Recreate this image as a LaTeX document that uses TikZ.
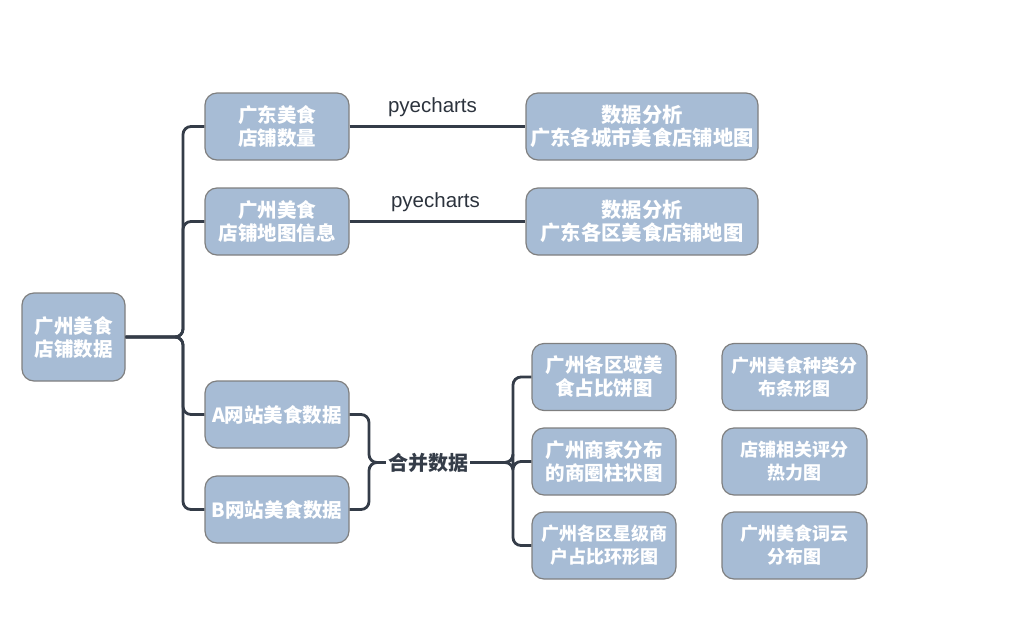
\documentclass[tikz,border=0pt]{standalone}
\usepackage{fontspec}
\setmainfont{Noto Sans CJK SC}
\newfontfamily\latinsans{Liberation Sans}
\definecolor{boxfill}{HTML}{A7BCD5}
\definecolor{boxborder}{HTML}{7F7F7F}
\definecolor{linkc}{HTML}{343C48}
\tikzset{
  box/.style={draw=boxborder, fill=boxfill, rounded corners=12pt, line width=1.2pt,
    text=white, align=center, inner sep=0pt,
    font=\bfseries\fontsize{19.5}{23}\selectfont},
  link/.style={draw=linkc, line width=2.8pt, rounded corners=8pt},
  lbl/.style={text=linkc!85!black, inner sep=1pt, font=\latinsans\fontsize{20.5}{24}\selectfont}
}
\begin{document}
\begin{tikzpicture}[x=1pt,y=-1pt]
\useasboundingbox (0,0) rectangle (1035,629);
% nodes
\node[box, minimum width=103pt, minimum height=88pt] (root) at (73.5,337) {广州美食\\店铺数据};
\node[box, minimum width=144pt, minimum height=67pt] (n1) at (277,126.5) {广东美食\\店铺数量};
\node[box, minimum width=144pt, minimum height=67pt] (n2) at (277,221.5) {广州美食\\店铺地图信息};
\node[box, minimum width=144pt, minimum height=67pt] (nA) at (277,414.5) {A网站美食数据};
\node[box, minimum width=144pt, minimum height=67pt] (nB) at (277,509.5) {B网站美食数据};
\node[box, minimum width=232pt, minimum height=67pt, font=\bfseries\fontsize{20.3}{23}\selectfont] (d1) at (642,126.5) {数据分析\\广东各城市美食店铺地图};
\node[box, minimum width=232pt, minimum height=67pt, font=\bfseries\fontsize{20.3}{23}\selectfont] (d2) at (642,221.5) {数据分析\\广东各区美食店铺地图};
\node[box, minimum width=144pt, minimum height=67pt] (c1) at (604,377) {广州各区域美\\食占比饼图};
\node[box, minimum width=144pt, minimum height=67pt] (c2) at (604,461.5) {广州商家分布\\的商圈柱状图};
\node[box, minimum width=144pt, minimum height=67pt, font=\bfseries\fontsize{18}{23}\selectfont] (c3) at (604,545.5) {广州各区星级商\\户占比环形图};
\node[box, minimum width=145pt, minimum height=67pt, font=\bfseries\fontsize{18}{23}\selectfont] (r1) at (794.5,377) {广州美食种类分\\布条形图};
\node[box, minimum width=145pt, minimum height=67pt, font=\bfseries\fontsize{18}{23}\selectfont] (r2) at (794.5,461.5) {店铺相关评分\\热力图};
\node[box, minimum width=145pt, minimum height=67pt, font=\bfseries\fontsize{18}{23}\selectfont] (r3) at (794.5,545.5) {广州美食词云\\分布图};
\node[text=linkc, inner sep=2pt, font=\bfseries\fontsize{20}{24}\selectfont] (m) at (428,462.5) {合并数据};
% trunk coordinates
\coordinate (t1) at (183,0);
\coordinate (t2) at (369,0);
\coordinate (t3) at (513,0);
% root branches
\draw[link] (n1.west) -| (root.east -| t1) -- (root.east);
\draw[link] (n2.west) -| (root.east -| t1) -- (root.east);
\draw[link] (nA.west) -| (root.east -| t1) -- (root.east);
\draw[link] (nB.west) -| (root.east -| t1) -- (root.east);
% pyecharts links
\draw[link] (n1.east) -- node[lbl, above=7pt, xshift=-5pt] (p1) {pyecharts} (d1.west);
\draw[link] (n2.east) -- node[lbl, above=7pt, xshift=-2pt] (p2) {pyecharts} (d2.west);
% merge
\draw[link] (nA.east) -| (m.west -| t2) -- (m.west);
\draw[link] (nB.east) -| (m.west -| t2) -- (m.west);
\draw[link] (c1.west) -| (m.east -| t3) -- (m.east);
\draw[link] (c2.west) -| (m.east -| t3) -- (m.east);
\draw[link] (c3.west) -| (m.east -| t3) -- (m.east);
\end{tikzpicture}
\end{document}
